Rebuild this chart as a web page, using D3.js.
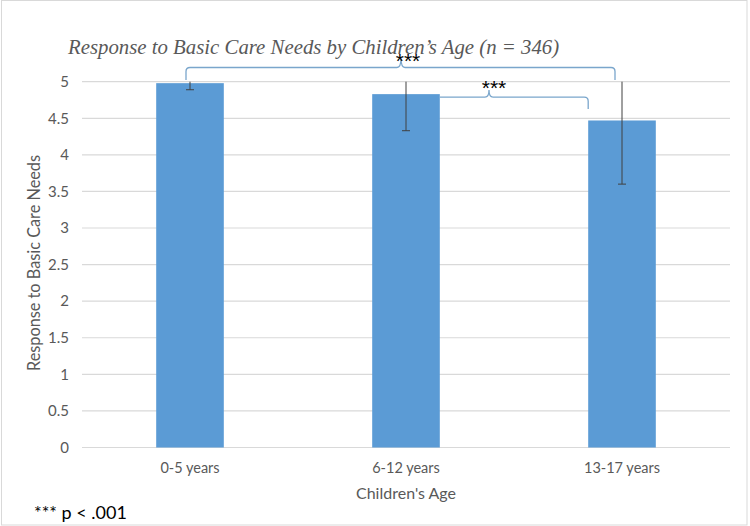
<!DOCTYPE html>
<html>
<head>
<meta charset="utf-8">
<script src="https://cdn.jsdelivr.net/npm/d3@7"></script>
<style>
  html, body { margin: 0; padding: 0; background: #fff; }
  svg { display: block; }
</style>
</head>
<body>
<svg id="chart" width="750" height="526"></svg>
<script>
const categories = ["0-5 years", "6-12 years", "13-17 years"];
const means = [4.98, 4.83, 4.47];
const errLow = [4.89, 4.33, 3.60];
const errHigh = [5.07, 5.33, 5.34];
const yTicks = [0, 0.5, 1, 1.5, 2, 2.5, 3, 3.5, 4, 4.5, 5];
const title = "Response to Basic Care Needs by Children\u2019s Age (n = 346)";
const yTitle = "Response to Basic Care Needs";
const xTitle = "Children's Age";
const note = "*** p < .001";
const sigLabel = "***";

const svg = d3.select("#chart");
const mLeft = 82, mRight = 730, mTop = 81.7, mBottom = 447.5;

svg.append("rect").attr("x", 1.5).attr("y", 0.5).attr("width", 745.5).attr("height", 524.5)
  .attr("fill", "#fff").attr("stroke", "#d9d9d9").attr("stroke-width", 1);

const x = d3.scaleBand().domain(categories).range([mLeft, mRight]).paddingInner(0.687).paddingOuter(0.3435);
const y = d3.scaleLinear().domain([0, 5]).range([mBottom, mTop]);

const font = "Lato, 'Open Sans', sans-serif";

// gridlines
svg.append("g").selectAll("line").data(yTicks).join("line")
  .attr("x1", mLeft).attr("x2", mRight)
  .attr("y1", d => y(d)).attr("y2", d => y(d))
  .attr("stroke", "#d9d9d9").attr("stroke-width", 1.2);

// y tick labels
svg.append("g").selectAll("text").data(yTicks).join("text")
  .attr("x", 69).attr("y", d => y(d)).attr("dy", "0.35em")
  .attr("text-anchor", "end").attr("font-family", font).attr("font-size", 15)
  .attr("fill", "#595959").text(d => d);

// bars
svg.append("g").selectAll("rect").data(categories).join("rect")
  .attr("x", d => x(d)).attr("width", x.bandwidth())
  .attr("y", (d, i) => y(means[i])).attr("height", (d, i) => y(0) - y(means[i]))
  .attr("fill", "#5b9bd5");

// error bars (clipped at axis max)
const eb = svg.append("g").attr("stroke", "#404040").attr("stroke-width", 1);
categories.forEach((c, i) => {
  const cx = x(c) + x.bandwidth() / 2;
  const hi = Math.min(errHigh[i], 5), lo = errLow[i];
  eb.append("line").attr("x1", cx).attr("x2", cx).attr("y1", y(hi)).attr("y2", y(lo));
  eb.append("line").attr("x1", cx - 4).attr("x2", cx + 4).attr("y1", y(lo)).attr("y2", y(lo));
  if (errHigh[i] <= 5) eb.append("line").attr("x1", cx - 4).attr("x2", cx + 4).attr("y1", y(hi)).attr("y2", y(hi));
});

// x labels
svg.append("g").selectAll("text").data(categories).join("text")
  .attr("x", d => x(d) + x.bandwidth() / 2).attr("y", 468).attr("dy", "0.35em")
  .attr("text-anchor", "middle").attr("font-family", font).attr("font-size", 14.5)
  .attr("fill", "#595959").text(d => d);

// axis titles
svg.append("text").attr("x", 406).attr("y", 493).attr("dy", "0.35em")
  .attr("text-anchor", "middle").attr("font-family", font).attr("font-size", 16)
  .attr("fill", "#595959").text(xTitle);
svg.append("text").attr("transform", "translate(34,263) rotate(-90)")
  .attr("dy", "0.35em").attr("text-anchor", "middle").attr("font-family", font).attr("font-size", 16.3)
  .attr("fill", "#595959").text(yTitle);

// title
svg.append("text").attr("x", 68).attr("y", 54)
  .attr("font-family", "'Liberation Serif', 'DejaVu Serif', serif").attr("font-style", "italic")
  .attr("font-size", 20.8).attr("fill", "#595959").text(title);

// brackets
const bc = "#7aa6cc";
function bracket(x1, x2, ybar, yEndL, yEndR, peakX, peakY) {
  const r = 4;
  const p = d3.path();
  if (yEndL !== null) {
    p.moveTo(x1, yEndL);
    p.lineTo(x1, ybar + r);
    p.quadraticCurveTo(x1, ybar, x1 + r, ybar);
  } else {
    p.moveTo(x1, ybar);
  }
  p.lineTo(peakX - r, ybar);
  p.quadraticCurveTo(peakX, ybar, peakX, peakY);
  p.quadraticCurveTo(peakX, ybar, peakX + r, ybar);
  p.lineTo(x2 - r, ybar);
  p.quadraticCurveTo(x2, ybar, x2, ybar + r);
  p.lineTo(x2, yEndR);
  svg.append("path").attr("d", p.toString()).attr("fill", "none")
    .attr("stroke", bc).attr("stroke-width", 1.3);
}
const c0 = x(categories[0]) + x.bandwidth() / 2;
const c2 = x(categories[2]) + x.bandwidth() / 2;
bracket(c0 - 4, c2 - 7, 67.5, 80, 80, 401, 58);
bracket(x(categories[1]) + x.bandwidth(), x(categories[2]), y(means[1]) + 3, null, 109, 489, 90);

svg.append("text").attr("x", 408).attr("y", 68).attr("text-anchor", "middle")
  .attr("font-family", "'Liberation Sans', Arial, sans-serif").attr("font-size", 21)
  .attr("fill", "#000").text(sigLabel);
svg.append("text").attr("x", 494).attr("y", 95).attr("text-anchor", "middle")
  .attr("font-family", "'Liberation Sans', Arial, sans-serif").attr("font-size", 21)
  .attr("fill", "#000").text(sigLabel);

// note
svg.append("text").attr("x", 34).attr("y", 513).attr("dy", "0.35em")
  .attr("font-family", font).attr("font-size", 18).attr("fill", "#000").text(note);
</script>
</body>
</html>
